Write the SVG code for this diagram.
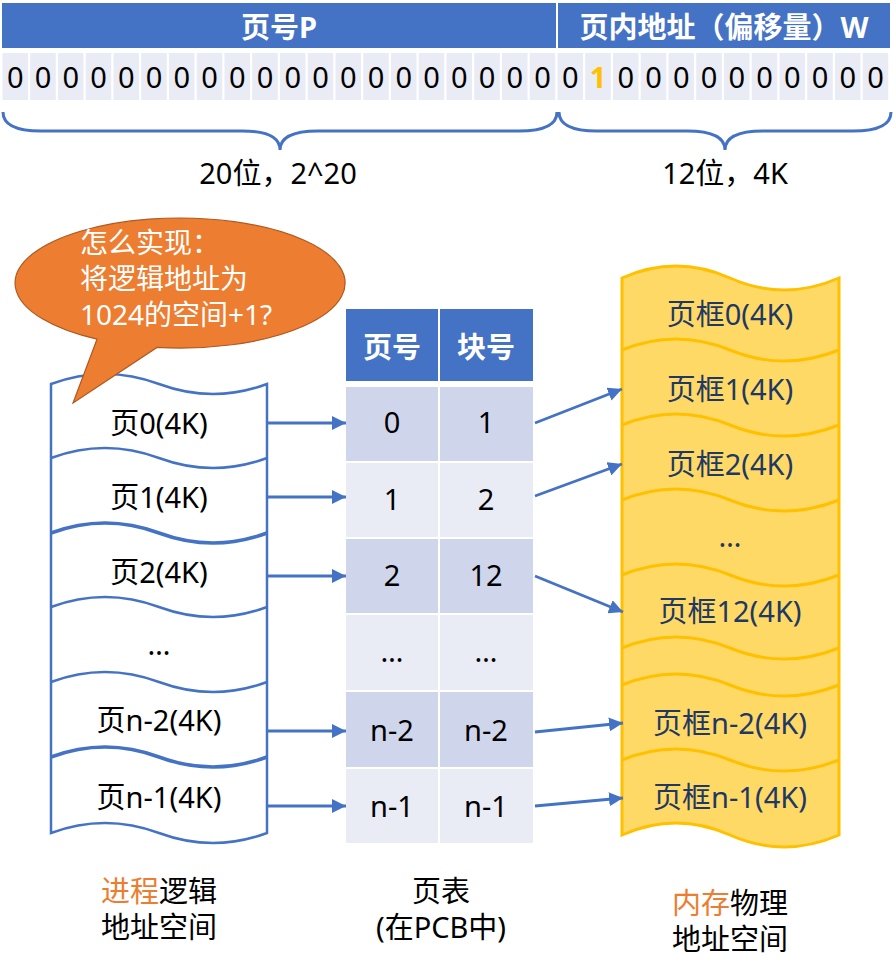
<svg xmlns="http://www.w3.org/2000/svg" width="896" height="974" viewBox="0 0 896 974">
<defs>
<style>
.t{font-family:"Noto Sans","Noto Sans CJK SC",sans-serif;font-size:29px;fill:#000;text-anchor:middle}
.hd{font-weight:bold;fill:#fff}
.mem{fill:#203864}
.bub{fill:#fff;text-anchor:start;font-size:28px}
.org{fill:#ED7D31}
.cell{fill:#E9EBF5}
.dark{fill:#CFD5EA}
.light{fill:#E9EBF5}
.blue{fill:#4472C4}
.wl{fill:none;stroke:#4472C4;stroke-width:2.5}
.wm{fill:none;stroke:#FFC000;stroke-width:3}
.br{fill:none;stroke:#4472C4;stroke-width:3}
.arr{stroke:#4472C4;stroke-width:2.8;fill:none;marker-end:url(#ah)}
</style>
<marker id="ah" markerUnits="userSpaceOnUse" markerWidth="15" markerHeight="14" refX="14" refY="7" orient="auto">
<path d="M0,0 L14,7 L0,14 Z" fill="#4472C4"/>
</marker>
</defs>
<rect width="896" height="974" fill="#fff"/>

<g id="address-header">
<rect class="blue" x="2" y="3" width="554" height="45"/>
<rect class="blue" x="558" y="3" width="332" height="45"/>
<text class="t hd" x="279" y="38">页号P</text>
<text class="t hd" x="724" y="38">页内地址（偏移量）W</text>
</g>

<g id="bits">
<rect class="cell" x="2.5" y="53" width="25.5" height="47"/><rect class="cell" x="30.25" y="53" width="25.5" height="47"/><rect class="cell" x="58" y="53" width="25.5" height="47"/><rect class="cell" x="85.75" y="53" width="25.5" height="47"/><rect class="cell" x="113.5" y="53" width="25.5" height="47"/><rect class="cell" x="141.25" y="53" width="25.5" height="47"/><rect class="cell" x="169" y="53" width="25.5" height="47"/><rect class="cell" x="196.75" y="53" width="25.5" height="47"/><rect class="cell" x="224.5" y="53" width="25.5" height="47"/><rect class="cell" x="252.25" y="53" width="25.5" height="47"/><rect class="cell" x="280" y="53" width="25.5" height="47"/><rect class="cell" x="307.75" y="53" width="25.5" height="47"/><rect class="cell" x="335.5" y="53" width="25.5" height="47"/><rect class="cell" x="363.25" y="53" width="25.5" height="47"/><rect class="cell" x="391" y="53" width="25.5" height="47"/><rect class="cell" x="418.75" y="53" width="25.5" height="47"/><rect class="cell" x="446.5" y="53" width="25.5" height="47"/><rect class="cell" x="474.25" y="53" width="25.5" height="47"/><rect class="cell" x="502" y="53" width="25.5" height="47"/><rect class="cell" x="529.75" y="53" width="25.5" height="47"/><rect class="cell" x="557.5" y="53" width="25.5" height="47"/><rect class="cell" x="585.25" y="53" width="25.5" height="47"/><rect class="cell" x="613" y="53" width="25.5" height="47"/><rect class="cell" x="640.75" y="53" width="25.5" height="47"/><rect class="cell" x="668.5" y="53" width="25.5" height="47"/><rect class="cell" x="696.25" y="53" width="25.5" height="47"/><rect class="cell" x="724" y="53" width="25.5" height="47"/><rect class="cell" x="751.75" y="53" width="25.5" height="47"/><rect class="cell" x="779.5" y="53" width="25.5" height="47"/><rect class="cell" x="807.25" y="53" width="25.5" height="47"/><rect class="cell" x="835" y="53" width="25.5" height="47"/><rect class="cell" x="862.75" y="53" width="25.5" height="47"/>
<text class="t" x="15.25" y="88">0</text><text class="t" x="43" y="88">0</text><text class="t" x="70.75" y="88">0</text><text class="t" x="98.5" y="88">0</text><text class="t" x="126.25" y="88">0</text><text class="t" x="154" y="88">0</text><text class="t" x="181.75" y="88">0</text><text class="t" x="209.5" y="88">0</text><text class="t" x="237.25" y="88">0</text><text class="t" x="265" y="88">0</text><text class="t" x="292.75" y="88">0</text><text class="t" x="320.5" y="88">0</text><text class="t" x="348.25" y="88">0</text><text class="t" x="376" y="88">0</text><text class="t" x="403.75" y="88">0</text><text class="t" x="431.5" y="88">0</text><text class="t" x="459.25" y="88">0</text><text class="t" x="487" y="88">0</text><text class="t" x="514.75" y="88">0</text><text class="t" x="542.5" y="88">0</text><text class="t" x="570.25" y="88">0</text><text class="t" x="598" y="88" style="fill:#FFC000;font-weight:bold">1</text><text class="t" x="625.75" y="88">0</text><text class="t" x="653.5" y="88">0</text><text class="t" x="681.25" y="88">0</text><text class="t" x="709" y="88">0</text><text class="t" x="736.75" y="88">0</text><text class="t" x="764.5" y="88">0</text><text class="t" x="792.25" y="88">0</text><text class="t" x="820" y="88">0</text><text class="t" x="847.75" y="88">0</text><text class="t" x="875.5" y="88">0</text>
</g>

<g id="braces">
<path class="br" d="M3,112 C3,124 15,131 41,131 L242,131 C268,131 280,138 280,150 C280,138 292,131 318,131 L519,131 C545,131 557,124 557,112"/>
<path class="br" d="M559,112 C559,124 571,131 597,131 L687,131 C713,131 725,138 725,150 C725,138 737,131 763,131 L853,131 C879,131 891,124 891,112"/>
<text class="t" x="278" y="184">20位，2^20</text>
<text class="t" x="725" y="184">12位，4K</text>
</g>

<g id="process-space">
<path d="M51,384 Q105,364 159,384 T267,384 L267,833 Q213,853 159,833 T51,833 Z" fill="#fff" stroke="#4472C4" stroke-width="2.5"/>
<path class="wl" d="M51,458 Q105,438 159,458 T267,458"/>
<path class="wl" d="M51,533 Q105,513 159,533 T267,533" style="stroke-width:3.5"/>
<path class="wl" d="M51,607 Q105,587 159,607 T267,607"/>
<path class="wl" d="M51,682 Q105,662 159,682 T267,682"/>
<path class="wl" d="M51,757 Q105,737 159,757 T267,757" style="stroke-width:3.5"/>
<text class="t" x="159" y="434">页0(4K)</text>
<text class="t" x="159" y="508">页1(4K)</text>
<text class="t" x="159" y="583">页2(4K)</text>
<text class="t" x="159" y="655">…</text>
<text class="t" x="159" y="731">页n-2(4K)</text>
<text class="t" x="159" y="808">页n-1(4K)</text>
</g>

<g id="bubble">
<path d="M97,339.2 L73,403 L157,347.4 A165,65 0 1 0 97,339.2 Z" fill="#ED7D31" stroke="#AE5A21" stroke-width="1.2"/>
<text class="t bub" x="80" y="253">怎么实现：</text>
<text class="t bub" x="80" y="289">将逻辑地址为</text>
<text class="t bub" x="80" y="325">1024的空间+1?</text>
</g>

<g id="page-table">
<rect class="blue" x="346" y="309" width="92" height="72"/>
<rect class="blue" x="440" y="309" width="93" height="72"/>
<text class="t hd" x="392" y="358">页号</text>
<text class="t hd" x="486" y="358">块号</text>
<rect class="dark" x="346" y="387" width="92" height="74"/><rect class="dark" x="440" y="387" width="93" height="74"/>
<rect class="light" x="346" y="463" width="92" height="74"/><rect class="light" x="440" y="463" width="93" height="74"/>
<rect class="dark" x="346" y="539" width="92" height="74"/><rect class="dark" x="440" y="539" width="93" height="74"/>
<rect class="light" x="346" y="615" width="92" height="75"/><rect class="light" x="440" y="615" width="93" height="75"/>
<rect class="dark" x="346" y="692" width="92" height="75"/><rect class="dark" x="440" y="692" width="93" height="75"/>
<rect class="light" x="346" y="769" width="92" height="74"/><rect class="light" x="440" y="769" width="93" height="74"/>
<text class="t" x="392" y="433">0</text><text class="t" x="486" y="433">1</text>
<text class="t" x="392" y="510">1</text><text class="t" x="486" y="510">2</text>
<text class="t" x="392" y="586">2</text><text class="t" x="486" y="586">12</text>
<text class="t" x="392" y="662">…</text><text class="t" x="486" y="662">…</text>
<text class="t" x="392" y="741">n-2</text><text class="t" x="486" y="741">n-2</text>
<text class="t" x="392" y="817">n-1</text><text class="t" x="486" y="817">n-1</text>
</g>

<g id="memory-space">
<path d="M622,278 Q676,254 730,278 T839,278 L839,835 Q784,859 730,835 T622,835 Z" fill="#FFD966" stroke="#FFC000" stroke-width="3"/>
<path class="wm" d="M622,350 Q676,328 730,350 T839,350"/>
<path class="wm" d="M622,425 Q676,403 730,425 T839,425"/>
<path class="wm" d="M622,500 Q676,478 730,500 T839,500"/>
<path class="wm" d="M622,575 Q676,553 730,575 T839,575"/>
<path class="wm" d="M622,648 Q676,626 730,648 T839,648"/>
<path class="wm" d="M622,685 Q676,663 730,685 T839,685"/>
<path class="wm" d="M622,760 Q676,738 730,760 T839,760"/>
<text class="t mem" x="730" y="325">页框0(4K)</text>
<text class="t mem" x="730" y="400">页框1(4K)</text>
<text class="t mem" x="730" y="475">页框2(4K)</text>
<text class="t mem" x="730" y="547">…</text>
<text class="t mem" x="730" y="622">页框12(4K)</text>
<text class="t mem" x="730" y="734">页框n-2(4K)</text>
<text class="t mem" x="730" y="808">页框n-1(4K)</text>
</g>

<g id="connectors">
<line class="arr" x1="267" y1="423" x2="346" y2="423"/>
<line class="arr" x1="267" y1="497" x2="346" y2="497"/>
<line class="arr" x1="267" y1="576" x2="346" y2="576"/>
<line class="arr" x1="267" y1="731" x2="346" y2="731"/>
<line class="arr" x1="267" y1="806" x2="346" y2="806"/>
<line class="arr" x1="535" y1="423" x2="622" y2="389"/>
<line class="arr" x1="535" y1="496" x2="622" y2="464"/>
<line class="arr" x1="535" y1="576" x2="623" y2="612"/>
<line class="arr" x1="535" y1="732" x2="623" y2="723"/>
<line class="arr" x1="535" y1="806" x2="623" y2="798"/>
</g>

<g id="labels">
<text class="t" x="159" y="902"><tspan class="org">进程</tspan>逻辑</text>
<text class="t" x="159" y="938">地址空间</text>
<text class="t" x="441" y="902">页表</text>
<text class="t" x="441" y="938">(在PCB中)</text>
<text class="t" x="730" y="914"><tspan class="org">内存</tspan>物理</text>
<text class="t" x="730" y="950">地址空间</text>
</g>
</svg>
